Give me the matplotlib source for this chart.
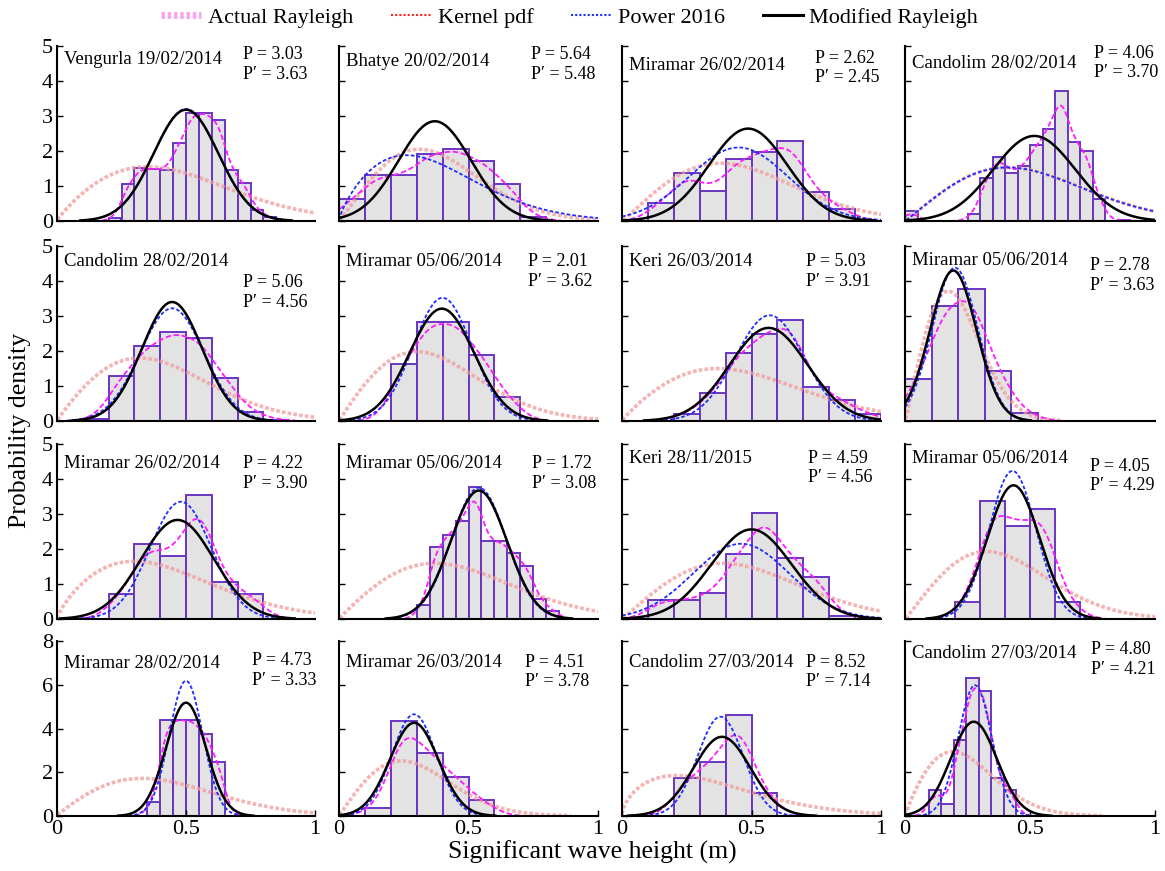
import numpy as np
import matplotlib.pyplot as plt
from matplotlib.lines import Line2D

plt.rcParams['font.family'] = ['Liberation Serif', 'DejaVu Serif']

# station / date of each record, row by row
stations = ['Vengurla 19/02/2014', 'Bhatye 20/02/2014', 'Miramar 26/02/2014', 'Candolim 28/02/2014',
            'Candolim 28/02/2014', 'Miramar 05/06/2014', 'Keri 26/03/2014', 'Miramar 05/06/2014',
            'Miramar 26/02/2014', 'Miramar 05/06/2014', 'Keri 28/11/2015', 'Miramar 05/06/2014',
            'Miramar 28/02/2014', 'Miramar 26/03/2014', 'Candolim 27/03/2014', 'Candolim 27/03/2014']
p_vals = ['3.03', '5.64', '2.62', '4.06', '5.06', '2.01', '5.03', '2.78',
          '4.22', '1.72', '4.59', '4.05', '4.73', '4.51', '8.52', '4.80']
p_prime = ['3.63', '5.48', '2.45', '3.70', '4.56', '3.62', '3.91', '3.63',
           '3.90', '3.08', '4.56', '4.29', '3.33', '3.78', '7.14', '4.21']

# histogram of Hs: first bin edge, bin width, bar heights
bin_start = [0.2, 0.0, 0.1, 0.0, 0.1, 0.2, 0.2, 0.0,
             0.2, 0.3, 0.1, 0.2, 0.35, 0.1, 0.2, 0.095]
bin_width = [0.05, 0.1, 0.1, 0.05, 0.1, 0.1, 0.1, 0.106,
             0.1, 0.05, 0.1, 0.1, 0.05, 0.1, 0.1, 0.05]
bar_heights = [
    [0.08, 1.05, 1.52, 1.48, 1.47, 2.22, 3.08, 3.08, 2.88, 1.45, 1.08, 0.3, 0.1],
    [0.62, 1.3, 1.3, 1.92, 2.05, 1.72, 1.06, 0.1],
    [0.52, 1.36, 0.87, 1.77, 1.98, 2.28, 0.83, 0.34],
    [0.29, 0, 0, 0, 0, 0.19, 1.22, 1.84, 1.38, 1.57, 2.16, 2.62, 3.72, 2.26, 2.0, 0.63, 0, 0.04],
    [0.06, 1.29, 2.13, 2.55, 2.37, 1.24, 0.27, 0.04],
    [1.64, 2.84, 2.84, 1.9, 0.7],
    [0.2, 0.79, 1.94, 2.5, 2.9, 0.98, 0.6, 0.2],
    [1.19, 3.3, 3.76, 1.43, 0.24],
    [0.71, 2.14, 1.79, 3.55, 1.07, 0.71],
    [0.41, 2.05, 2.41, 2.79, 3.76, 2.22, 2.22, 1.88, 1.52, 0.57, 0.24],
    [0.54, 0.54, 0.74, 1.85, 3.03, 1.75, 1.2, 0.08],
    [0.49, 3.37, 2.65, 3.13, 0.49],
    [0.62, 4.38, 4.38, 4.38, 3.75, 2.49],
    [0.38, 4.34, 2.88, 1.8, 0.72],
    [1.74, 2.46, 4.62, 1.03],
    [1.19, 0.57, 3.46, 6.29, 5.70, 1.76, 1.19],
]

# fitted curves, given by mode and peak density
ray_mode = [0.35, 0.31, 0.38, 0.41, 0.32, 0.30, 0.37, 0.173,
            0.30, 0.37, 0.39, 0.326, 0.33, 0.24, 0.21, 0.19]
ray_peak = [1.55, 2.05, 1.65, 1.53, 1.80, 1.98, 1.50, 3.71,
            1.65, 1.59, 1.59, 1.93, 1.72, 2.52, 1.85, 2.94]
pow_mode = [0.50, 0.26, 0.45, 0.41, 0.446, 0.40, 0.57, 0.20,
            0.48, 0.54, 0.46, 0.43, 0.50, 0.29, 0.38, 0.28]
pow_peak = [3.20, 1.88, 2.10, 1.53, 3.22, 3.52, 3.02, 4.38,
            3.35, 3.75, 2.15, 4.23, 6.18, 4.65, 4.54, 5.98]
pow_skewed = [False, True, False, True, False, False, False, False,
              False, False, False, False, False, False, False, False]
mod_mode = [0.50, 0.37, 0.487, 0.517, 0.446, 0.397, 0.566, 0.193,
            0.467, 0.54, 0.50, 0.434, 0.50, 0.29, 0.386, 0.275]
mod_peak = [3.18, 2.85, 2.64, 2.43, 3.40, 3.21, 2.66, 4.30,
            2.83, 3.67, 2.56, 3.82, 5.18, 4.26, 3.62, 4.31]

y_top = [5, 5, 5, 5, 5, 5, 5, 5, 5, 5, 5, 5, 8, 8, 8, 8]

# text placement in axes fraction: station label y, P label x, P label y
label_pos = [(0.92, 0.72, 0.95), (0.91, 0.74, 0.95), (0.886, 0.745, 0.93), (0.90, 0.756, 0.96),
             (0.91, 0.72, 0.79), (0.91, 0.73, 0.91), (0.91, 0.71, 0.91), (0.92, 0.74, 0.886),
             (0.886, 0.72, 0.886), (0.886, 0.745, 0.886), (0.92, 0.72, 0.92), (0.92, 0.74, 0.874),
             (0.874, 0.756, 0.886), (0.88, 0.72, 0.88), (0.88, 0.71, 0.88), (0.93, 0.744, 0.95)]


def weibull_pdf(x, mode, peak):
    # shape k from (k-1)*exp(-(k-1)/k) = mode*peak, then scale from the mode
    ks = np.linspace(1.001, 80, 40000)
    g = (ks - 1) * np.exp(-(ks - 1) / ks)
    k = np.interp(mode * peak, g, ks)
    lam = mode / ((k - 1) / k) ** (1 / k)
    return k / lam * (x / lam) ** (k - 1) * np.exp(-(x / lam) ** k)


def gauss_pdf(x, mean, peak):
    sd = 1.0 / (peak * np.sqrt(2 * np.pi))
    return peak * np.exp(-0.5 * ((x - mean) / sd) ** 2)


def kernel_pdf(x, start, width, heights):
    heights = np.asarray(heights, float)
    centers = start + width * (np.arange(len(heights)) + 0.5)
    bw = 0.6 * width
    out = np.zeros_like(x)
    for c, h in zip(centers, heights):
        out += h * width * np.exp(-0.5 * ((x - c) / bw) ** 2) / (bw * np.sqrt(2 * np.pi))
    return out


def trim(y, eps=0.015):
    return np.where(y > eps, y, np.nan)


W, H = 1165, 871
fig = plt.figure(figsize=(W / 100, H / 100), dpi=100)

col_left = [57, 339, 622, 905]
col_w = [258, 259, 259, 250]
row_zero = [221, 421, 619, 816]
ax_h = 175

x = np.linspace(0.0005, 1, 500)

for i in range(16):
    r, c = divmod(i, 4)
    ax = fig.add_axes([col_left[c] / W, (H - row_zero[r]) / H, col_w[c] / W, ax_h / H])

    hts = bar_heights[i]
    edges = bin_start[i] + bin_width[i] * np.arange(len(hts))
    ax.bar(edges, hts, width=bin_width[i], align='edge', color='#e3e3e3',
           edgecolor='#6a35c0', linewidth=1.4, zorder=1)

    if pow_skewed[i]:
        y_pow = weibull_pdf(x, pow_mode[i], pow_peak[i])
    else:
        y_pow = gauss_pdf(x, pow_mode[i], pow_peak[i])

    ax.plot(x, trim(weibull_pdf(x, ray_mode[i], ray_peak[i])), color='#f29a9a',
            lw=2.6, ls=(0, (1, 0.6)), alpha=0.75, zorder=2)
    ax.plot(x, trim(kernel_pdf(x, bin_start[i], bin_width[i], hts)), color='#ff1aff',
            lw=1.3, ls=(0, (3, 1.5)), zorder=3)
    ax.plot(x, trim(y_pow), color='#1f2cff', lw=1.3, ls=(0, (2, 1.2)), zorder=4)
    ax.plot(x, trim(gauss_pdf(x, mod_mode[i], mod_peak[i])), color='black',
            lw=1.8, zorder=5)

    ax.set_xlim(0, 1)
    ax.set_ylim(0, y_top[i])
    for s in ['top', 'right']:
        ax.spines[s].set_visible(False)
    for s in ['left', 'bottom']:
        ax.spines[s].set_linewidth(1.5)
        ax.spines[s].set_zorder(6)
    ax.set_facecolor('none')

    step = 2 if y_top[i] == 8 else 1
    ax.set_yticks(np.arange(0, y_top[i] + 1, step))
    ax.set_xticks([0, 0.5, 1])
    ax.tick_params(direction='in', length=4, width=1, labelsize=16, pad=3)
    if c == 0:
        ax.set_yticklabels([str(v) for v in np.arange(0, y_top[i] + 1, step)])
    else:
        ax.set_yticklabels([])
    if r == 3:
        ax.set_xticklabels(['0', '0.5', '1'])
    else:
        ax.set_xticklabels([])
        ax.tick_params(axis='x', length=0)

    sy, px, py = label_pos[i]
    ax.text(0.027, sy, stations[i], transform=ax.transAxes, fontsize=13.5,
            ha='left', va='center', zorder=7)
    ax.text(px, py, 'P = ' + p_vals[i], transform=ax.transAxes, fontsize=13,
            ha='left', va='center', zorder=7)
    ax.text(px, py - 0.112, 'P\u2032 = ' + p_prime[i], transform=ax.transAxes, fontsize=13,
            ha='left', va='center', zorder=7)

fig.text(20 / W, 0.506, 'Probability density', rotation=90, fontsize=18.5,
         ha='center', va='center')
fig.text(592 / W, (H - 852) / H, 'Significant wave height (m)', fontsize=18.5,
         ha='center', va='center')

handles = [
    Line2D([], [], color='#f7a6f2', lw=5, ls=(0, (0.5, 0.4))),
    Line2D([], [], color='#ff2020', lw=1.5, ls=(0, (1, 1))),
    Line2D([], [], color='#1f2cff', lw=1.5, ls=(0, (1, 1))),
    Line2D([], [], color='black', lw=2.2),
]
labels = ['Actual Rayleigh', 'Kernel pdf', 'Power 2016', 'Modified Rayleigh']
fig.legend(handles, labels, loc='center', bbox_to_anchor=(0.489, 1 - 18 / H), ncol=4,
           frameon=False, fontsize=16, handlelength=1.8, handletextpad=0.3,
           columnspacing=1.7, borderpad=0)

fig.savefig('out.png', dpi=100)
